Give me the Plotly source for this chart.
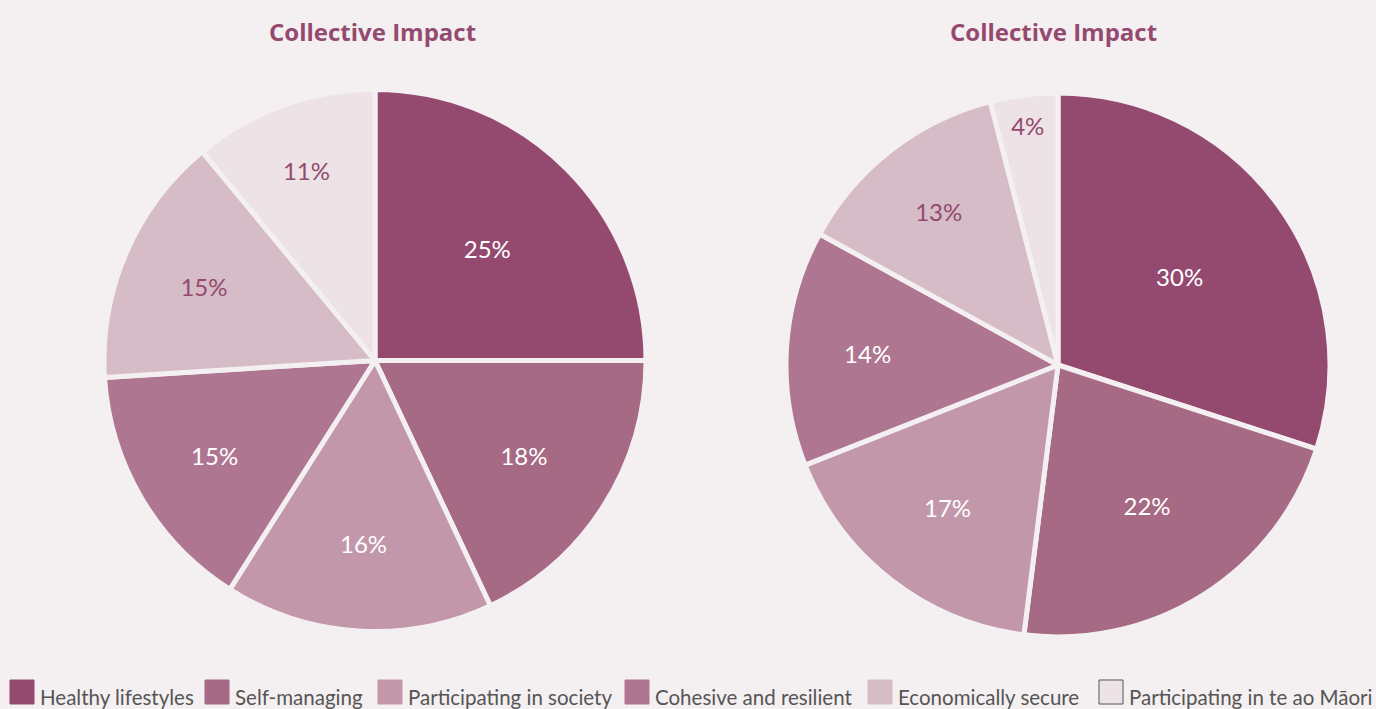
import plotly.graph_objects as go

# Outcome categories and their shares (%) for the two Collective Impact views
categories = [
    "Healthy lifestyles",
    "Self-managing",
    "Participating in society",
    "Cohesive and resilient",
    "Economically secure",
    "Participating in te ao Māori",
]
left_values = [25, 18, 16, 15, 15, 11]
right_values = [30, 22, 17, 14, 13, 4]
chart_title = "Collective Impact"

colors = ["#944a6f", "#a66a84", "#c197a9", "#ae7690", "#d5bcc7", "#ede2e6"]
text_colors = ["#ffffff", "#ffffff", "#ffffff", "#ffffff", "#944a6f", "#944a6f"]
bg = "#f4eff1"

W, H = 1376, 709


def px_x(x):
    return x / W


def px_y(y):
    return 1 - y / H


def pie(values, x0, x1, y0, y1):
    return go.Pie(
        labels=categories,
        values=values,
        sort=False,
        direction="clockwise",
        rotation=0,
        marker=dict(colors=colors, line=dict(color=bg, width=5)),
        texttemplate="%{value}%",
        textposition="inside",
        insidetextorientation="horizontal",
        textfont=dict(color=text_colors, size=24, family="Lato"),
        hoverinfo="label+percent",
        showlegend=False,
        domain=dict(x=[px_x(x0), px_x(x1)], y=[px_y(y1), px_y(y0)]),
    )


fig = go.Figure()
fig.add_trace(pie(left_values, 104, 646, 89, 632))
fig.add_trace(pie(right_values, 786, 1330, 93, 637))

annotations = []
for cx in (372, 1053):
    annotations.append(dict(
        text=f"<b>{chart_title}</b>", x=px_x(cx), y=px_y(31), xref="paper", yref="paper",
        xanchor="center", yanchor="middle", showarrow=False,
        font=dict(family="Open Sans", size=24, color="#944a6f"),
    ))

# Legend row along the bottom edge
swatch_x = [10, 205, 378, 625, 868, 1099]
shapes = []
for i, name in enumerate(categories):
    x0 = swatch_x[i]
    shapes.append(dict(
        type="rect", xref="paper", yref="paper",
        x0=px_x(x0), x1=px_x(x0 + 24), y0=px_y(704), y1=px_y(680),
        fillcolor=colors[i],
        line=dict(color="#555555" if i == len(categories) - 1 else colors[i], width=1),
    ))
    annotations.append(dict(
        text=name, x=px_x(x0 + 28), y=px_y(697), xref="paper", yref="paper",
        xanchor="left", yanchor="middle", showarrow=False,
        font=dict(family="Lato", size=20.5, color="#555555"),
    ))

fig.update_layout(
    width=W, height=H,
    margin=dict(l=0, r=0, t=0, b=0),
    paper_bgcolor=bg, plot_bgcolor=bg,
    annotations=annotations, shapes=shapes,
    showlegend=False,
)

fig.write_html("out.html")
